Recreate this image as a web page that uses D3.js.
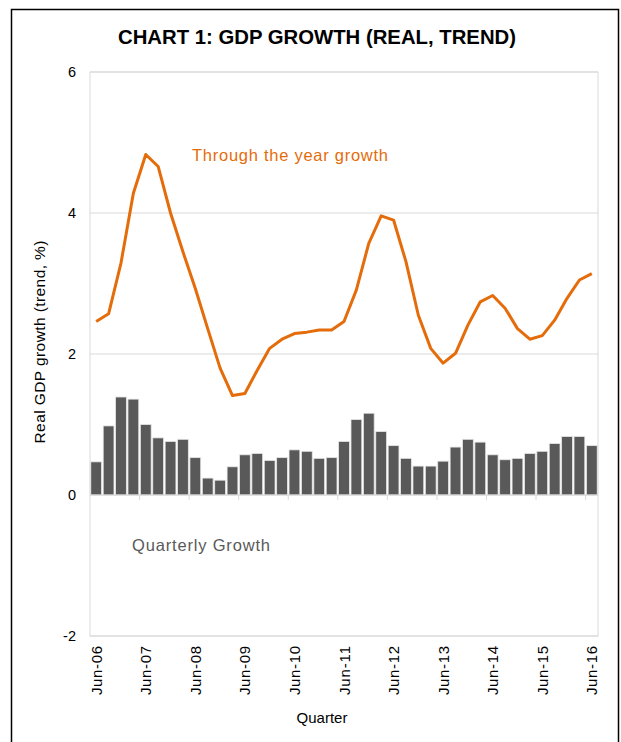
<!DOCTYPE html>
<html><head><meta charset="utf-8">
<script src="https://cdn.jsdelivr.net/npm/d3@7/dist/d3.min.js"></script>
<style>body{margin:0;background:#fff;}svg{display:block;font-family:"Liberation Sans",Arial,sans-serif;}</style>
</head><body><svg id="c" width="621" height="742"></svg>
<script>
const quarters = [];
const years = ["06","07","08","09","10","11","12","13","14","15","16"];
const months = ["Jun","Sep","Dec","Mar"];
for (let i = 0; i < 41; i++) {
  const m = months[i % 4];
  const yr = 2006 + Math.floor((i + 2) / 4);
  quarters.push(m + "-" + String(yr).slice(2));
}
const quarterlyGrowth = [0.47,0.98,1.39,1.36,1.00,0.81,0.76,0.79,0.53,0.24,0.21,0.40,0.57,0.59,0.49,0.53,0.64,0.62,0.52,0.53,0.76,1.07,1.16,0.90,0.70,0.52,0.41,0.41,0.48,0.68,0.79,0.75,0.57,0.50,0.52,0.59,0.62,0.73,0.83,0.83,0.70];
const throughYearGrowth = [2.46,2.57,3.29,4.28,4.83,4.66,4.00,3.45,2.93,2.36,1.80,1.41,1.44,1.77,2.08,2.21,2.29,2.31,2.34,2.34,2.46,2.91,3.57,3.96,3.90,3.31,2.55,2.08,1.87,2.01,2.41,2.74,2.83,2.65,2.36,2.21,2.26,2.48,2.79,3.05,3.14];
const yTicks = [-2,0,2,4,6];
const xTickLabels = years.map(y => "Jun-" + y);

const svg = d3.select("#c");
const L = 90, R = 598, T = 72, B = 636;

svg.append("rect").attr("x",11.5).attr("y",9.5).attr("width",607).attr("height",740)
  .attr("fill","none").attr("stroke","#000").attr("stroke-width",1.5);

const xb = d3.scaleBand().domain(quarters).range([L, R]);
const y = d3.scaleLinear().domain([-2, 6]).range([B, T]);

// gridlines
svg.append("g").selectAll("line").data(yTicks).join("line")
  .attr("x1", L).attr("x2", R).attr("y1", d => y(d)).attr("y2", d => y(d))
  .attr("stroke", "#d9d9d9").attr("stroke-width", 1);
// plot border
svg.append("rect").attr("x", L).attr("y", T).attr("width", R - L).attr("height", B - T)
  .attr("fill", "none").attr("stroke", "#d9d9d9");

// y tick labels
svg.append("g").selectAll("text").data(yTicks).join("text")
  .attr("x", 76).attr("y", d => y(d) + 5).attr("text-anchor", "end")
  .attr("font-size", 14.5).attr("fill", "#000").text(d => d);

// bars
svg.append("g").selectAll("rect").data(quarterlyGrowth).join("rect")
  .attr("x", (d, i) => xb(quarters[i]) + 0.8)
  .attr("width", xb.bandwidth() - 1.6)
  .attr("y", d => y(d)).attr("height", d => y(0) - y(d))
  .attr("fill", "#595959").attr("stroke", "#e6e6e6").attr("stroke-width", 0.8);

// x axis at 0
const xAxisG = svg.append("g").attr("transform", `translate(0,${y(0)})`);
xAxisG.append("line").attr("x1", L).attr("x2", R).attr("stroke", "#d9d9d9");
const tickIdx = d3.range(4, 41, 4);
xAxisG.selectAll("line.t").data(tickIdx).join("line").attr("class","t")
  .attr("x1", i => xb(quarters[i])).attr("x2", i => xb(quarters[i]))
  .attr("y1", 0).attr("y2", 5).attr("stroke", "#d9d9d9");

// x tick labels (rotated)
svg.append("g").selectAll("text").data(xTickLabels).join("text")
  .attr("transform", d => `translate(${xb(d) + xb.bandwidth()/2 + 5.5},${646}) rotate(-90)`)
  .attr("text-anchor", "end").attr("font-size", 15).attr("fill", "#000")
  .attr("textLength", 49).attr("lengthAdjust", "spacing").text(d => d);

// line
const line = d3.line().x((d, i) => xb(quarters[i]) + xb.bandwidth()/2).y(d => y(d));
svg.append("path").datum(throughYearGrowth).attr("d", line)
  .attr("fill", "none").attr("stroke", "#e46c0a").attr("stroke-width", 3).attr("stroke-linejoin","round");

// texts
svg.append("text").attr("x", 317).attr("y", 44).attr("text-anchor", "middle")
  .attr("font-size", 19.5).attr("font-weight", "bold").attr("fill", "#000")
  .attr("textLength", 398).attr("lengthAdjust", "spacingAndGlyphs")
  .text("CHART 1: GDP GROWTH (REAL, TREND)");
svg.append("text").attr("x", 192).attr("y", 161).attr("font-size", 16.5).attr("fill", "#e46c0a")
  .attr("textLength", 196).attr("lengthAdjust", "spacing")
  .text("Through the year growth");
svg.append("text").attr("x", 132).attr("y", 551).attr("font-size", 16.5).attr("fill", "#595959")
  .attr("textLength", 138).attr("lengthAdjust", "spacing")
  .text("Quarterly Growth");
svg.append("text").attr("transform", "translate(45,342) rotate(-90)").attr("text-anchor", "middle")
  .attr("font-size", 15.5).attr("fill", "#000")
  .attr("textLength", 203).attr("lengthAdjust", "spacing")
  .text("Real GDP growth (trend, %)");
svg.append("text").attr("x", 322).attr("y", 723).attr("text-anchor", "middle")
  .attr("font-size", 15).attr("fill", "#000").text("Quarter");
</script></body></html>
